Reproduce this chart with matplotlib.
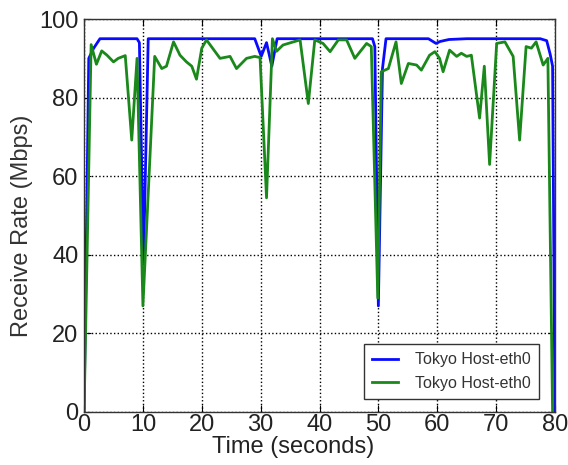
import matplotlib
matplotlib.use("Agg")
import matplotlib.pyplot as plt

plt.rcParams["font.family"] = ["Liberation Sans", "DejaVu Sans"]

# Blue series (Tokyo Host-eth0)
blue_t = [0, 0.8, 1.6, 2.7, 9.0, 9.4, 10.1, 10.9, 29.0, 30.1, 31.0, 31.9, 32.8,
          49.0, 49.4, 50.0, 50.7, 51.3, 58.5, 59.8, 60.5, 62.0, 65.0, 77.5, 78.6,
          79.2, 79.6, 80.0]
blue_v = [0, 90, 92.5, 95, 95, 94, 38, 95, 95, 90.5, 94, 88, 95,
          95, 93, 27, 87.4, 95, 95, 93.8, 94.3, 94.8, 95, 95, 94.5,
          91, 88, 0]

# Green series (Tokyo Host-eth0)
green_t = [0, 1.2, 2.1, 3.0, 3.9, 5.0, 5.8, 7.0, 8.1, 9.0, 10.0, 12.0, 13.2, 14.0,
           15.2, 16.3, 17.4, 18.3, 19.1, 20.0, 20.8, 23.1, 24.8, 25.9, 27.6, 29.0,
           29.9, 31.0, 32.0, 32.7, 33.8, 36.7, 38.1, 39.2, 40.6, 41.8, 43.2, 44.6,
           46.0, 48.0, 48.8, 49.9, 50.5, 51.7, 53.0, 53.9, 55.1, 56.5, 57.3, 58.7,
           59.6, 60.4, 61.0, 62.1, 63.3, 64.1, 65.0, 65.8, 67.2, 68.0, 68.9, 70.1,
           71.5, 72.9, 74.0, 75.1, 76.0, 76.8, 78.0, 78.8, 79.6]
green_v = [0, 93.5, 88.5, 91.9, 90.8, 89.1, 90, 90.7, 69.2, 90, 27, 90.5, 87.4, 88,
           94.2, 90.8, 89.1, 88, 84.7, 92.6, 94.7, 90, 90.5, 87.4, 90, 90.5,
           90.2, 54.5, 95, 91.8, 93.4, 94.7, 78.5, 94.7, 93.8, 91.7, 94.7, 94.7,
           90, 93.8, 93, 29, 86.6, 87.4, 94.2, 83.6, 88.7, 88.3, 87, 90.8,
           91.7, 90, 86.6, 92.1, 90.5, 91.3, 90.5, 90.8, 74.8, 88, 63, 93.8,
           94.2, 90.5, 69.2, 93, 92.6, 94.2, 88.3, 90, 0]

series_labels = ["Tokyo Host-eth0", "Tokyo Host-eth0"]
x_ticks = [0, 10, 20, 30, 40, 50, 60, 70, 80]
y_ticks = [0, 20, 40, 60, 80, 100]

fig = plt.figure(figsize=(5.68, 4.65), dpi=100)
ax = fig.add_axes([0.148, 0.114, 0.829, 0.845])

ax.plot(blue_t, blue_v, color="#0a0aff", lw=2.0, label=series_labels[0])
ax.plot(green_t, green_v, color="#1a881a", lw=2.0, label=series_labels[1])

ax.set_xlim(0, 80)
ax.set_ylim(0, 100)
ax.set_xticks(x_ticks)
ax.set_yticks(y_ticks)
ax.grid(True, color="black", linestyle=":", linewidth=1.0)
ax.tick_params(direction="in", top=True, right=True, length=5, labelsize=17, pad=4,
               labelcolor="#222222")
ax.tick_params(axis="x", pad=1.5)
for s in ax.spines.values():
    s.set_linewidth(1.0)
    s.set_color("#333333")

ax.set_xlabel("Time (seconds)", fontsize=17, color="#222222")
ax.xaxis.set_label_coords(0.444, -0.062)
ax.set_ylabel("Receive Rate (Mbps)", fontsize=17, color="#333333")
ax.yaxis.set_label_coords(-0.108, 0.473)

leg = ax.legend(loc="lower right", fontsize=11.5, fancybox=False, framealpha=1,
                edgecolor="#333333", handlelength=1.6, handletextpad=1.1,
                borderpad=0.5, labelspacing=0.55,
                bbox_to_anchor=(0.983, 0.013))
leg.get_frame().set_linewidth(1.0)
for t in leg.get_texts():
    t.set_color("#333333")

fig.savefig("out.png", dpi=100)
